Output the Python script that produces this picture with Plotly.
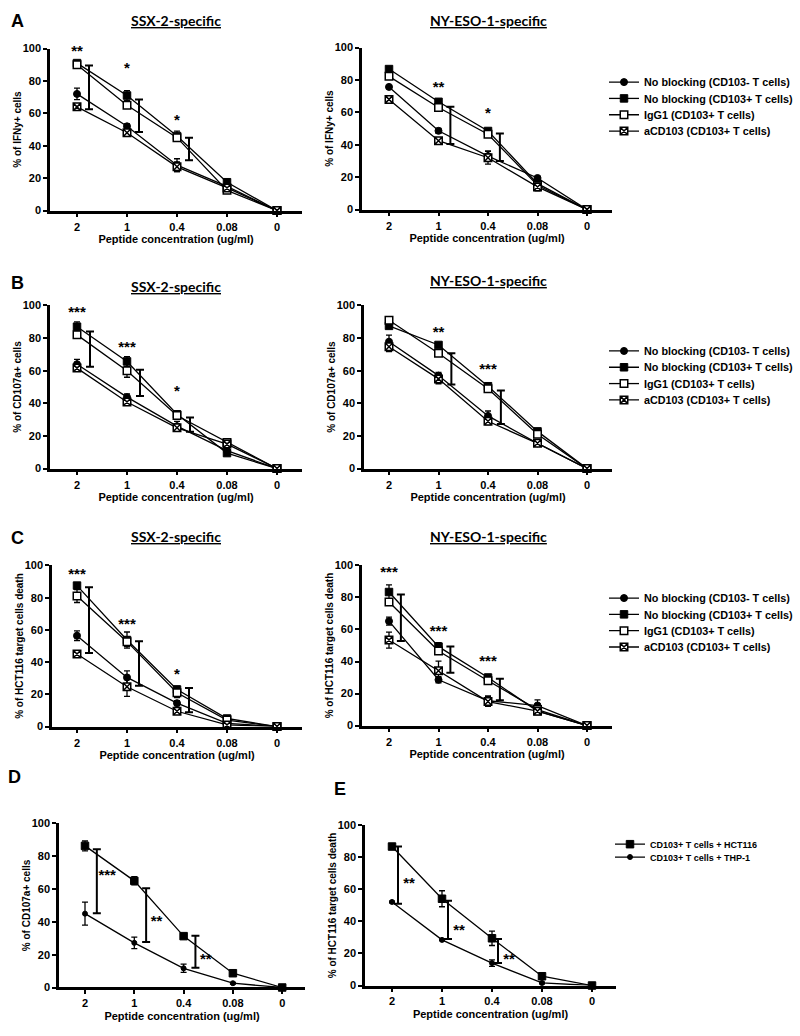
import plotly.graph_objects as go

# ---------------- data ----------------
categories = ["2", "1", "0.4", "0.08", "0"]
series_names = ["No blocking (CD103- T cells)", "No blocking (CD103+ T cells)",
                "IgG1 (CD103+ T cells)", "aCD103 (CD103+ T cells)"]
de_names = ["CD103+ T cells + HCT116", "CD103+ T cells + THP-1"]

# Panel A - IFNy, SSX-2
a_ssx_neg = [72, 52, 28, 15, 0];      a_ssx_neg_err = [3.5, 1.5, 4, 1.5, 0]
a_ssx_pos = [91, 71, 46, 17.5, 0];    a_ssx_pos_err = [1.5, 3, 3, 1.5, 0]
a_ssx_igg = [90, 65, 45, 12.5, 0];    a_ssx_igg_err = [1.5, 1.5, 2, 1, 0]
a_ssx_acd = [64, 48, 27, 14, 0];      a_ssx_acd_err = [1.5, 1.5, 3, 1, 0]
a_ssx_br_idx = [0, 1, 2]; a_ssx_br_lo = [62.5, 48.5, 31]; a_ssx_br_hi = [89.5, 68.5, 45]
a_ssx_stars = ["**", "*", "*"]; a_ssx_star_y = [98, 87, 55]

# Panel A - IFNy, NY-ESO-1
a_ny_neg = [75.7, 48.6, 33, 19.5, 0]; a_ny_neg_err = [0.5, 1.5, 3, 1, 0]
a_ny_pos = [86.7, 66.5, 48.5, 16, 0]; a_ny_pos_err = [1, 1.5, 1.5, 1.5, 0]
a_ny_igg = [82.2, 63, 46.5, 15, 0];   a_ny_igg_err = [1, 1, 1.5, 1, 0]
a_ny_acd = [68, 42.5, 32, 14, 0];     a_ny_acd_err = [1.5, 1, 4, 2.5, 0]
a_ny_br_idx = [1, 2]; a_ny_br_lo = [40.5, 30]; a_ny_br_hi = [63.5, 47]
a_ny_stars = ["**", "*"]; a_ny_star_y = [75, 59]

# Panel B - CD107a, SSX-2
b_ssx_neg = [64, 43.8, 26, 11, 0];    b_ssx_neg_err = [3, 2, 3, 1, 0]
b_ssx_pos = [87, 65.7, 33.3, 9.5, 0]; b_ssx_pos_err = [3, 3, 1.5, 1, 0]
b_ssx_igg = [82, 60, 32.5, 16, 0];    b_ssx_igg_err = [2, 4, 1, 1, 0]
b_ssx_acd = [61.6, 40.8, 25, 15, 0];  b_ssx_acd_err = [2, 1.5, 2, 1, 0]
b_ssx_br_idx = [0, 1, 2]; b_ssx_br_lo = [62.5, 44.5, 22.6]; b_ssx_br_hi = [84, 60.6, 31.3]
b_ssx_stars = ["***", "***", "*"]; b_ssx_star_y = [95, 74, 47]

# Panel B - CD107a, NY-ESO-1
b_ny_neg = [77.8, 57, 32.3, 15.5, 0]; b_ny_neg_err = [4, 2, 3, 1, 0]
b_ny_pos = [87.5, 75.8, 50.5, 22.8, 0]; b_ny_pos_err = [1, 1, 1, 1, 0]
b_ny_igg = [91, 70.7, 49, 21, 0];     b_ny_igg_err = [1, 1, 1, 1, 0]
b_ny_acd = [74.7, 55, 29, 15.5, 0];   b_ny_acd_err = [3, 3, 2, 1, 0]
b_ny_br_idx = [1, 2]; b_ny_br_lo = [51.5, 27.3]; b_ny_br_hi = [70.7, 47.9]
b_ny_stars = ["**", "***"]; b_ny_star_y = [83, 60]

# Panel C - HCT116 killing, SSX-2
c_ssx_neg = [56.4, 30.5, 14.5, 2, 0]; c_ssx_neg_err = [3, 4, 1.5, 0.5, 0]
c_ssx_pos = [87.5, 53.7, 23, 5, 0];   c_ssx_pos_err = [1, 5, 2, 1, 0]
c_ssx_igg = [81, 52.7, 21, 4, 0];     c_ssx_igg_err = [4, 3, 3, 1, 0]
c_ssx_acd = [45, 24.7, 9.5, 1, 0];    c_ssx_acd_err = [2, 6, 2, 0.5, 0]
c_ssx_br_idx = [0, 1, 2]; c_ssx_br_lo = [45.6, 25.3, 8.8]; c_ssx_br_hi = [86.5, 53, 24]
c_ssx_stars = ["***", "***", "*"]; c_ssx_star_y = [94, 63, 32]

# Panel C - HCT116 killing, NY-ESO-1
c_ny_neg = [65.2, 28.6, 15.5, 12.5, 0]; c_ny_neg_err = [2.5, 2, 3, 3.5, 0]
c_ny_pos = [83.4, 49.3, 30, 9, 0];      c_ny_pos_err = [4.5, 2.5, 2, 1, 0]
c_ny_igg = [77.2, 46.6, 28, 10, 0];     c_ny_igg_err = [1, 2, 1.5, 1, 0]
c_ny_acd = [53.4, 34.2, 15, 9, 0];      c_ny_acd_err = [5, 6, 3, 1, 0]
c_ny_br_idx = [0, 1, 2]; c_ny_br_lo = [52.8, 33, 15.8]; c_ny_br_hi = [81.8, 49.3, 29.3]
c_ny_stars = ["***", "***", "***"]; c_ny_star_y = [95, 58, 39.5]

# Panel D - CD107a, HCT116 vs THP-1
d_hct = [86.3, 65, 31.3, 8.7, 0]; d_hct_err = [3, 2.5, 1.5, 1, 0]
d_thp = [45, 27.2, 11.7, 2.6, 0]; d_thp_err = [7, 3.5, 2.5, 0.5, 0]
d_br_idx = [0, 1, 2]; d_br_lo = [45.2, 27.8, 12]; d_br_hi = [84.3, 60.5, 31.5]
d_stars = ["***", "**", "**"]; d_star_y = [68, 40, 16.7]

# Panel E - killing, HCT116 vs THP-1
e_hct = [86.8, 54.2, 29.5, 5.8, 0]; e_hct_err = [1, 5, 4.5, 1, 0]
e_thp = [52.2, 28.5, 14, 1.6, 0];   e_thp_err = [0.5, 0.5, 2, 0.5, 0]
e_br_idx = [0, 1, 2]; e_br_lo = [51, 29, 14]; e_br_hi = [86.8, 53, 29]
e_stars = ["**", "**", "**"]; e_star_y = [63.5, 33.6, 16]

# ---------------- styling / layout helpers ----------------
W, H = 800, 1036
FONT = "Liberation Sans"
fig = go.Figure()

def px_x(p):
    return p / W

def px_y(p):
    return 1 - p / H

symbols4 = [dict(symbol="circle", color="black", size=7, line=dict(color="black", width=1)),
            dict(symbol="square", color="black", size=7.5, line=dict(color="black", width=1)),
            dict(symbol="square", color="white", size=7.5, line=dict(color="black", width=1.5)),
            dict(symbol="square-x", color="white", size=7.5, line=dict(color="black", width=1.5))]
symbols2 = [dict(symbol="square", color="black", size=7.5, line=dict(color="black", width=1)),
            dict(symbol="circle", color="black", size=5, line=dict(color="black", width=1))]

tick_font = dict(family=FONT, size=11, color="black", weight="bold")


def leg_name(i):
    return "legend" if i == 1 else f"legend{i}"


def add_panel(n, geom, series, errs, markers, names, legends,
              br_idx, br_lo, br_hi, br_off, stars, star_y, star_off, ytitle):
    left, cat0, step, right, top, bottom = geom
    xa = "x" if n == 1 else f"x{n}"
    ya = "y" if n == 1 else f"y{n}"
    xs = list(range(len(categories)))
    for k, (vals, err, mk, name) in enumerate(zip(series, errs, markers, names)):
        fig.add_trace(go.Scatter(
            x=xs, y=vals, mode="lines+markers", name=name, xaxis=xa, yaxis=ya,
            line=dict(color="black", width=1.3), marker=mk,
            error_y=dict(type="data", array=err, visible=True, color="black",
                         thickness=1.3, width=3),
            legend=leg_name(legends[k]) if legends else None,
            showlegend=bool(legends), cliponaxis=False))
    # significance brackets
    fig.add_trace(go.Scatter(
        x=[i + br_off for i in br_idx],
        y=[(lo + hi) / 2 for lo, hi in zip(br_lo, br_hi)],
        mode="markers", marker=dict(size=1, color="rgba(0,0,0,0)"),
        error_y=dict(type="data", array=[(hi - lo) / 2 for lo, hi in zip(br_lo, br_hi)],
                     visible=True, color="black", thickness=2, width=4),
        xaxis=xa, yaxis=ya, showlegend=False, hoverinfo="skip", cliponaxis=False))
    # stars
    fig.add_trace(go.Scatter(
        x=[i + star_off for i in br_idx], y=star_y, text=stars, mode="text",
        textfont=dict(family=FONT, size=15, color="black", weight="bold"),
        xaxis=xa, yaxis=ya, showlegend=False, hoverinfo="skip", cliponaxis=False))

    xkey = "xaxis" if n == 1 else f"xaxis{n}"
    ykey = "yaxis" if n == 1 else f"yaxis{n}"
    fig.layout[xkey] = dict(
        domain=[px_x(left), px_x(right)],
        range=[(left - cat0) / step, (right - cat0) / step],
        anchor=ya, tickvals=xs, ticktext=categories, ticks="outside", ticklen=4,
        tickwidth=1.5, tickcolor="black", showline=True, linewidth=2.5, linecolor="black",
        showgrid=False, zeroline=False, tickfont=tick_font,
        title=dict(text="Peptide concentration (ug/ml)", standoff=4,
                   font=dict(family=FONT, size=11, color="black", weight="bold")))
    fig.layout[ykey] = dict(
        domain=[px_y(bottom), px_y(top)], range=[0, 100], anchor=xa,
        tickvals=[0, 20, 40, 60, 80, 100], ticks="outside", ticklen=4, tickwidth=1.5,
        tickcolor="black", showline=True, linewidth=2.5, linecolor="black",
        showgrid=False, zeroline=False, tickfont=tick_font,
        title=dict(text=ytitle, standoff=0,
                   font=dict(family=FONT, size=10, color="black", weight="bold")))


G_AL = (50, 77, 50, 302, 43, 207)
G_AR = (362, 389, 49.5, 612, 42, 206)
G_BL = (50, 77, 50, 302, 303, 468)
G_BR = (364, 389, 49.5, 612, 303, 468)
G_CL = (52, 77, 50, 302, 566, 729)
G_CR = (362, 389, 49.5, 612, 566, 728)
G_D = (59, 85, 49.3, 305, 827, 993)
G_E = (365, 392, 50, 616, 829, 991)

add_panel(1, G_AL, [a_ssx_neg, a_ssx_pos, a_ssx_igg, a_ssx_acd],
          [a_ssx_neg_err, a_ssx_pos_err, a_ssx_igg_err, a_ssx_acd_err], symbols4, series_names,
          [1, 2, 3, 4], a_ssx_br_idx, a_ssx_br_lo, a_ssx_br_hi, 0.24,
          a_ssx_stars, a_ssx_star_y, 0.0, "% of IFNy+ cells")
add_panel(2, G_AR, [a_ny_neg, a_ny_pos, a_ny_igg, a_ny_acd],
          [a_ny_neg_err, a_ny_pos_err, a_ny_igg_err, a_ny_acd_err], symbols4, series_names,
          None, a_ny_br_idx, a_ny_br_lo, a_ny_br_hi, 0.24,
          a_ny_stars, a_ny_star_y, 0.0, "% of IFNy+ cells")
add_panel(3, G_BL, [b_ssx_neg, b_ssx_pos, b_ssx_igg, b_ssx_acd],
          [b_ssx_neg_err, b_ssx_pos_err, b_ssx_igg_err, b_ssx_acd_err], symbols4, series_names,
          [5, 6, 7, 8], b_ssx_br_idx, b_ssx_br_lo, b_ssx_br_hi, 0.26,
          b_ssx_stars, b_ssx_star_y, 0.0, "% of CD107a+ cells")
add_panel(4, G_BR, [b_ny_neg, b_ny_pos, b_ny_igg, b_ny_acd],
          [b_ny_neg_err, b_ny_pos_err, b_ny_igg_err, b_ny_acd_err], symbols4, series_names,
          None, b_ny_br_idx, b_ny_br_lo, b_ny_br_hi, 0.26,
          b_ny_stars, b_ny_star_y, 0.0, "% of CD107a+ cells")
add_panel(5, G_CL, [c_ssx_neg, c_ssx_pos, c_ssx_igg, c_ssx_acd],
          [c_ssx_neg_err, c_ssx_pos_err, c_ssx_igg_err, c_ssx_acd_err], symbols4, series_names,
          [9, 10, 11, 12], c_ssx_br_idx, c_ssx_br_lo, c_ssx_br_hi, 0.24,
          c_ssx_stars, c_ssx_star_y, 0.0, "% of HCT116 target cells death")
add_panel(6, G_CR, [c_ny_neg, c_ny_pos, c_ny_igg, c_ny_acd],
          [c_ny_neg_err, c_ny_pos_err, c_ny_igg_err, c_ny_acd_err], symbols4, series_names,
          None, c_ny_br_idx, c_ny_br_lo, c_ny_br_hi, 0.24,
          c_ny_stars, c_ny_star_y, 0.0, "% of HCT116 target cells death")
add_panel(7, G_D, [d_hct, d_thp], [d_hct_err, d_thp_err], symbols2, de_names,
          None, d_br_idx, d_br_lo, d_br_hi, 0.24,
          d_stars, d_star_y, 0.45, "% of CD107a+ cells")
add_panel(8, G_E, [e_hct, e_thp], [e_hct_err, e_thp_err], symbols2, de_names,
          [13, 14], e_br_idx, e_br_lo, e_br_hi, 0.12,
          e_stars, e_star_y, 0.34, "% of HCT116 target cells death")

# titles, panel letters
annos = []
title_font = dict(family="Lato", size=14, color="black", weight="bold")
for txt, xc, yc in [("SSX-2-specific", 176, 15), ("NY-ESO-1-specific", 488, 15),
                    ("SSX-2-specific", 176, 284), ("NY-ESO-1-specific", 488, 278),
                    ("SSX-2-specific", 176, 537), ("NY-ESO-1-specific", 488, 537)]:
    annos.append(dict(text=f"<u>{txt}</u>", x=px_x(xc), y=px_y(yc), xref="paper", yref="paper",
                      xanchor="center", yanchor="middle", showarrow=False, font=title_font))
letter_font = dict(family=FONT, size=18, color="black", weight="bold")
for txt, xc, yc in [("A", 17, 15), ("B", 17, 280), ("C", 17, 538), ("D", 14, 780), ("E", 340, 792)]:
    annos.append(dict(text=txt, x=px_x(xc), y=px_y(yc), xref="paper", yref="paper",
                      xanchor="center", yanchor="middle", showarrow=False, font=letter_font))

legend_layout = {}
big_leg_font = dict(family=FONT, size=10.8, color="black", weight="bold")
small_leg_font = dict(family=FONT, size=9, color="black", weight="bold")
group_first_y = [77, 349, 599]
for g, y0 in enumerate(group_first_y):
    for k in range(4):
        idx = g * 4 + k + 1
        legend_layout[leg_name(idx)] = dict(
            x=px_x(604), y=px_y(y0 + 16.5 * k), xanchor="left", yanchor="middle",
            bgcolor="rgba(0,0,0,0)", font=big_leg_font, itemwidth=30)
for k, yc in enumerate([848, 861]):
    legend_layout[leg_name(13 + k)] = dict(
        x=px_x(610), y=px_y(yc), xanchor="left", yanchor="middle",
        bgcolor="rgba(0,0,0,0)", font=small_leg_font, itemwidth=30)

fig.update_layout(
    width=W, height=H, margin=dict(l=0, r=0, t=0, b=0), autosize=False,
    paper_bgcolor="white", plot_bgcolor="white",
    annotations=annos, **legend_layout,
)

fig.write_html("out.html", config={"displayModeBar": False},
               post_script="document.body.style.margin='0';document.body.style.overflow='hidden';")
